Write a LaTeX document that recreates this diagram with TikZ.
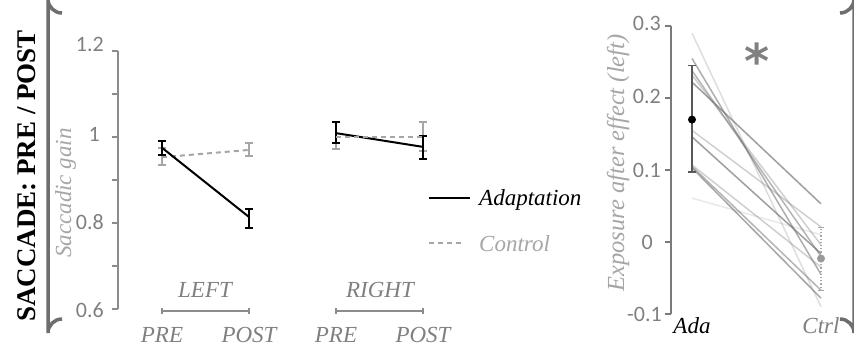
\documentclass[tikz,border=0pt]{standalone}
\usepackage{fontspec}
\setmainfont{Liberation Serif}
\newfontfamily\calfont{Carlito}
\newfontfamily\djfont{DejaVu Sans}
\definecolor{axgray}{HTML}{8C8C8C}
\definecolor{txgray}{HTML}{808080}
\definecolor{ltgray}{HTML}{A6A6A6}
\definecolor{brgray}{HTML}{6E6E6E}
\definecolor{dkgray}{HTML}{595959}
\newcommand{\errbar}[4][]{\draw[#1] (#2,#3) -- (#2,#4) (#2-4,#3) -- (#2+4,#3) (#2-4,#4) -- (#2+4,#4);}
\begin{document}
\begin{tikzpicture}[x=1pt,y=-1pt,
  axisline/.style={draw=axgray,line width=1.3pt},
  ticklab/.style={font=\calfont\fontsize{22}{22}\selectfont,text=txgray,anchor=east,inner sep=0pt},
  itlab/.style={font=\itshape\fontsize{23}{23}\selectfont,text=txgray,anchor=base,inner sep=0pt},
  adaline/.style={draw=black,line width=2pt},
  ctlline/.style={draw=ltgray,line width=2pt,dash pattern=on 5pt off 4pt},
  adaerr/.style={draw=black,line width=2.2pt},
  ctlerr/.style={draw=ltgray,line width=2pt},
  grpbar/.style={draw=axgray,line width=1.2pt},
  frame/.style={draw=brgray,line width=3.5pt},
  indiv/.style={draw=gray!85!black,line width=1.5pt}]
\useasboundingbox (0,0) rectangle (854,349);
\fill[white] (0,0) rectangle (854,349);

% frame brackets
\draw[frame] (62,13) arc[start angle=90,end angle=180,radius=14] -- (48,333) arc[start angle=180,end angle=270,radius=14];
\draw[frame] (840,13) arc[start angle=90,end angle=0,radius=14] -- (854,333) arc[start angle=0,end angle=-90,radius=14];

% title
\node (title) [rotate=90,font=\bfseries\fontsize{27}{27}\selectfont,inner sep=0pt] at (27,176) {SACCADE: PRE / POST};

% ---------- left chart ----------
\node (ylab) [rotate=90,itlab,text=ltgray,font=\itshape\fontsize{23}{23}\selectfont] at (71,193) {Saccadic gain};
\begin{scope}[shift={(0,567)},y=430pt]
  \draw[axisline] (118,0.6) coordinate (axb) -- (118,1.2) coordinate (axt);
  \foreach \v in {0.6,0.7,0.8,0.9,1.0,1.1,1.2} \draw[axisline] (112,\v) -- (118,\v);
  \node (t12) [ticklab] at (104,1.215) {1.2};
  \node (t10) [ticklab] at (100,1.007) {1};
  \node (t08) [ticklab] at (104,0.802) {0.8};
  \node (t06) [ticklab] at (104,0.598) {0.6};
  % control (left)
  \coordinate (cLpre) at (162,0.953);
  \coordinate (cLpost) at (249,0.970);
  \draw[ctlline] (cLpre) -- (cLpost);
  \errbar[ctlerr]{162}{0.935}{0.974}
  \errbar[ctlerr]{249}{0.956}{0.986}
  % adaptation (left)
  \coordinate (aLpre) at (162,0.975);
  \coordinate (aLpost) at (249,0.814);
  \draw[adaline] (aLpre) -- (aLpost);
  \errbar[adaerr]{162}{0.958}{0.99}
  \errbar[adaerr]{249}{0.789}{0.833}
  % right group
  \coordinate (cRpre) at (336,1.0);
  \coordinate (cRpost) at (423,1.0);
  \errbar[ctlerr]{336}{0.972}{1.035}
  \errbar[ctlerr]{423}{0.967}{1.035}
  \coordinate (aRpre) at (336,1.009);
  \coordinate (aRpost) at (423,0.977);
  \draw[adaline] (aRpre) -- (aRpost);
  \errbar[adaerr]{336}{0.986}{1.035}
  \errbar[adaerr]{423}{0.949}{1.002}
  \draw[ctlline] (cRpre) -- (cRpost);
\end{scope}
% group brackets and labels
\draw[grpbar] (162,308) -- (162,314) (162,311) -- (249,311) (249,308) -- (249,314);
\draw[grpbar] (336,308) -- (336,314) (336,311) -- (423,311) (423,308) -- (423,314);
\node (left) [itlab] at (205,297) {LEFT};
\node (right) [itlab] at (380,297) {RIGHT};
\node (pre1) [itlab] at (162,342) {PRE};
\node (post1) [itlab] at (249,342) {POST};
\node (pre2) [itlab] at (336,342) {PRE};
\node (post2) [itlab] at (423,342) {POST};
% legend
\coordinate (lg1a) at (429,198); \coordinate (lg1b) at (470,198);
\draw[adaline,line width=2.8pt] (lg1a) -- (lg1b);
\node (lgada) [itlab,text=black,anchor=base west] at (479,205) {Adaptation};
\coordinate (lg2a) at (429,243); \coordinate (lg2b) at (464,243);
\draw[ctlline,line width=2.6pt] (lg2a) -- (lg2b);
\node (lgctl) [itlab,text=ltgray,anchor=base west] at (479,251) {Control};

% ---------- right chart ----------
\node (ylab2) [rotate=90,itlab,text=ltgray,font=\itshape\fontsize{24.5}{24.5}\selectfont] at (624,163) {Exposure after effect (left)};
\begin{scope}[shift={(0,242)},y=720pt]
  \draw[axisline,draw=dkgray!80,line width=1.8pt] (671,-0.1) -- (671,0.3);
  \foreach \v in {-0.1,0,0.1,0.2,0.3} \draw[axisline,draw=dkgray!80,line width=1.8pt] (665,\v) -- (671,\v);
  \node (r03) [ticklab] at (661,0.303) {0.3};
  \node (r02) [ticklab] at (661,0.202) {0.2};
  \node (r01) [ticklab] at (661,0.1) {0.1};
  \node (r00) [ticklab] at (653,0) {0};
  \node (rm1) [ticklab] at (662,-0.1) {-0.1};
  % individual lines
  \draw[indiv,opacity=0.22] (692,0.290) -- (821,-0.090);
  \draw[indiv,opacity=0.55] (692,0.255) -- (821,-0.045);
  \draw[indiv,opacity=0.50] (692,0.238) -- (821,-0.020);
  \draw[indiv,opacity=0.32] (692,0.232) -- (821,-0.004);
  \draw[indiv,opacity=0.65] (692,0.222) -- (821,0.053);
  \draw[indiv,opacity=0.32] (692,0.155) -- (821,0.021);
  \draw[indiv,opacity=0.65] (692,0.146) -- (821,-0.016);
  \draw[indiv,opacity=0.32] (692,0.107) -- (821,-0.035);
  \draw[indiv,opacity=0.60] (692,0.103) -- (821,-0.078);
  \draw[indiv,opacity=0.50] (692,0.105) -- (821,-0.067);
  \draw[indiv,opacity=0.15] (692,0.061) -- (821,0.010);
  % ada mean and error
  \errbar[draw=dkgray,line width=1.6pt]{692}{0.097}{0.245}
  \node (adadot) [circle,fill=black,inner sep=0pt,minimum size=8pt] at (692,0.17) {};
  % ctrl mean and error
  \draw[draw=ltgray,line width=1.2pt,dotted] (821,-0.068) -- (821,0.020);
  \draw[draw=ltgray,line width=1pt] (818,-0.068) -- (824,-0.068) (818,0.020) -- (824,0.020);
  \node (ctldot) [circle,fill=gray!80,inner sep=0pt,minimum size=8pt] at (821,-0.023) {};
\end{scope}
\node (ada) [itlab,text=black] at (692,333) {Ada};
\node (ctrl) [itlab] at (821,333) {Ctrl};
\node (star) [font=\djfont\bfseries\fontsize{48}{48}\selectfont,text=txgray,inner sep=0pt] at (757,61) {*};
\end{tikzpicture}
\end{document}
